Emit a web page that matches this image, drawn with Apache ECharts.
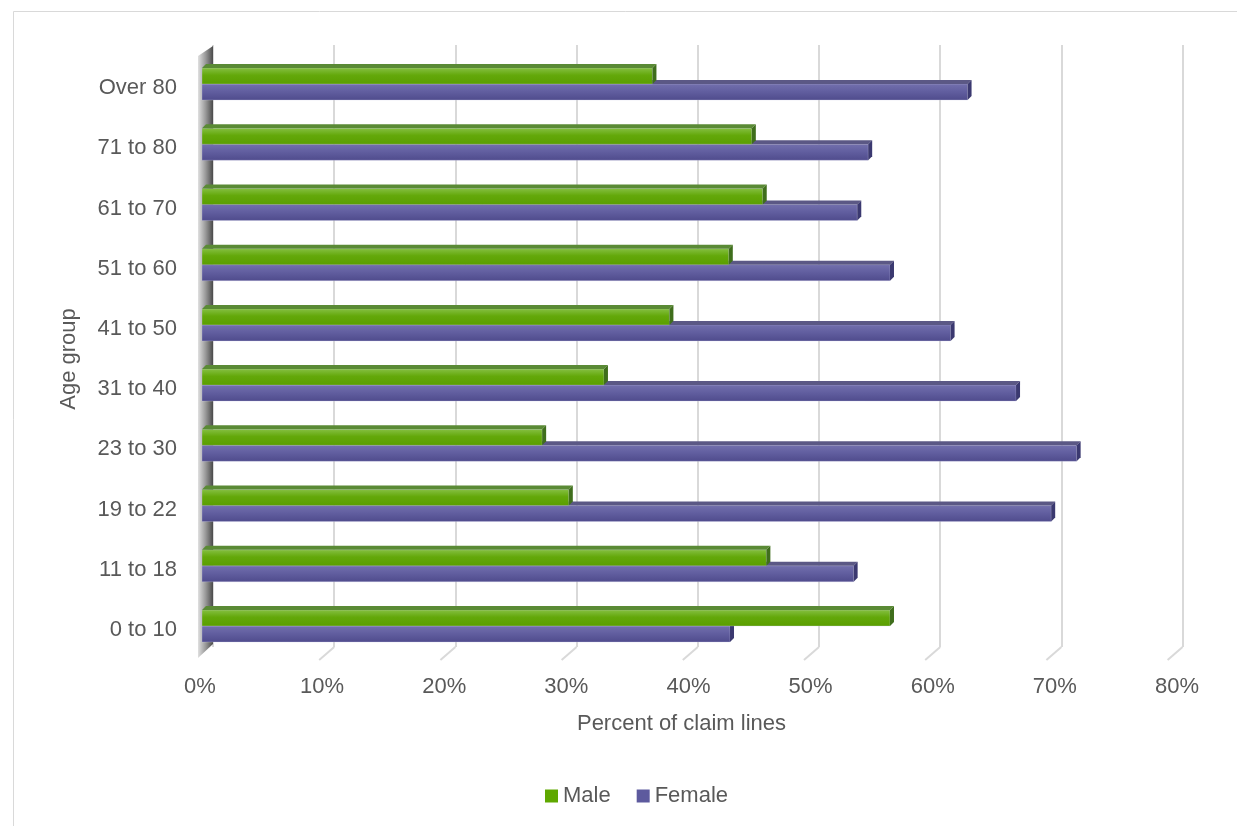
<!DOCTYPE html>
<html>
<head>
<meta charset="utf-8">
<script src="https://cdn.jsdelivr.net/npm/echarts@6/dist/echarts.min.js"></script>
<style>
html,body{margin:0;padding:0;background:#fff;}
#c{width:1237px;height:826px;}
</style>
</head>
<body>
<div id="c"></div>
<script>
var categories = ['0 to 10','11 to 18','19 to 22','23 to 30','31 to 40','41 to 50','51 to 60','61 to 70','71 to 80','Over 80'];
var maleValues = [56.6, 46.4, 30.1, 27.9, 33.0, 38.4, 43.3, 46.1, 45.2, 37.0];
var femaleValues = [43.4, 53.6, 69.9, 72.0, 67.0, 61.6, 56.6, 53.9, 54.8, 63.0];
var xTicks = [0, 10, 20, 30, 40, 50, 60, 70, 80];

var FONT = 'Liberation Sans, Arial, sans-serif';
var TXT = '#595959';
var FS = 22;

var chart = echarts.init(document.getElementById('c'), null, {renderer:'canvas'});

function grad(c1, c2, c3){
  return new echarts.graphic.LinearGradient(0,0,0,1,[
    {offset:0,color:c1},{offset:0.45,color:c2},{offset:1,color:c3}]);
}

var styles = {
  male: {front: grad('#86c043','#63a80a','#5a9e00'), top:'#5a8a35', end:'#3f6e1c', yTop:-20, yBot:-4},
  female: {front: grad('#7370ad','#625fa0','#4f4b8c'), top:'#5b5885', end:'#3b3970', yTop:-4, yBot:12}
};

function bar3d(st){
  return function(params, api){
    var idx = api.value(1);
    var p0 = api.coord([0, idx]);
    var p1 = api.coord([api.value(0), idx]);
    var cy = p0[1];
    var x0 = p0[0] - 2, x1 = p1[0];
    var yT = cy + st.yTop, yB = cy + st.yBot;
    var dx = 4, dy = 4;
    return {type:'group', children:[
      {type:'rect', shape:{x:x0, y:yT, width:x1-x0, height:yB-yT}, style:{fill:st.front, stroke:'rgba(200,200,230,0.5)', lineWidth:0.6}},
      {type:'polygon', shape:{points:[[x0,yT],[x0+dx,yT-dy],[x1+dx,yT-dy],[x1,yT]]}, style:{fill:st.top}},
      {type:'polygon', shape:{points:[[x1,yT],[x1+dx,yT-dy],[x1+dx,yB-dy],[x1,yB]]}, style:{fill:st.end}}
    ]};
  };
}

function floorAndWall(params, api){
  var v = api.value(0);
  var pb = api.coord([v, 0]);
  var pt = api.coord([v, 1]);
  var children = [];
  if (v === 0) {
    children.push({type:'polygon', shape:{points:[[pb[0]-15, pt[1]+11],[pb[0], pt[1]+1],[pb[0], pb[1]-3],[pb[0]-15, pb[1]+11]]},
      style:{fill:new echarts.graphic.LinearGradient(0,0,1,0,[{offset:0,color:'#e0e0e0'},{offset:0.5,color:'#9a9a9a'},{offset:1,color:'#4a4a4a'}])}});
  } else {
    children.push({type:'line', shape:{x1:pb[0], y1:pb[1], x2:pb[0]-15, y2:pb[1]+13}, style:{stroke:'#d9d9d9', lineWidth:2}});
  }
  return {type:'group', children:children};
}

var option = {
  animation:false,
  backgroundColor:'#ffffff',
  graphic:[{type:'rect', left:11, top:9, shape:{width:1300, height:900}, style:{fill:'none', stroke:'#d9d9d9', lineWidth:1}, z:-10, silent:true}],
  legend:{
    data:['Male','Female'], bottom:14, left:540, itemWidth:13, itemHeight:13, itemGap:26, icon:'rect',
    textStyle:{fontFamily:FONT, fontSize:FS, color:TXT}
  },
  grid:[
    {left:204, width:969.6, top:57.9, height:602.2},
    {left:213, width:969.6, top:45, height:602},
    {left:200, width:977, top:45, height:615}
  ],
  xAxis:[
    {gridIndex:0, type:'value', min:0, max:80, show:false},
    {gridIndex:1, type:'value', min:0, max:80, interval:10, axisLine:{show:false}, axisTick:{show:false}, axisLabel:{show:false},
      splitLine:{show:true, lineStyle:{color:'#d9d9d9', width:2}}},
    {gridIndex:2, type:'value', min:0, max:80, interval:10, axisLine:{show:false}, axisTick:{show:false}, splitLine:{show:false},
      axisLabel:{margin:16, fontFamily:FONT, fontSize:FS, color:TXT, formatter:function(v){return v+'%';}},
      name:'Percent of claim lines', nameLocation:'middle', nameGap:53,
      nameTextStyle:{fontFamily:FONT, fontSize:FS, color:TXT, padding:[0,14,0,0]}}
  ],
  yAxis:[
    {gridIndex:0, type:'category', data:categories, axisLine:{show:false}, axisTick:{show:false}, splitLine:{show:false},
      axisLabel:{margin:27, fontFamily:FONT, fontSize:FS, color:TXT},
      name:'Age group', nameLocation:'middle', nameRotate:90, nameGap:124,
      nameTextStyle:{fontFamily:FONT, fontSize:FS, color:TXT}},
    {gridIndex:1, type:'value', min:0, max:1, show:false},
    {gridIndex:2, type:'value', min:0, max:1, show:false}
  ],
  series:[
    {name:'Male', type:'custom', xAxisIndex:0, yAxisIndex:0, z:4, color:'#5fa800',
      renderItem:bar3d(styles.male), encode:{x:0, y:1},
      data:maleValues.map(function(v,i){return [v,i];})},
    {name:'Female', type:'custom', xAxisIndex:0, yAxisIndex:0, z:3, color:'#5d5a9e',
      renderItem:bar3d(styles.female), encode:{x:0, y:1},
      data:femaleValues.map(function(v,i){return [v,i];})},
    {name:'floor', type:'custom', xAxisIndex:1, yAxisIndex:1, z:1, silent:true,
      renderItem:floorAndWall, encode:{x:0, y:1},
      data:xTicks.map(function(v){return [v,0];})}
  ]
};
chart.setOption(option);
</script>
</body>
</html>
